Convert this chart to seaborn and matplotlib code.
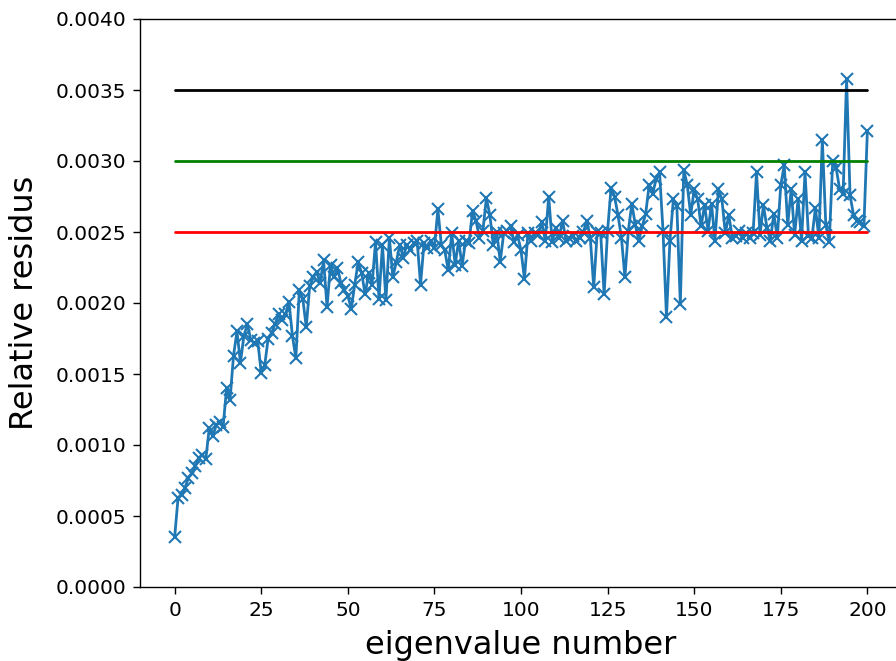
import numpy as np
import pandas as pd
import matplotlib
matplotlib.use("Agg")
import matplotlib.pyplot as plt
import seaborn as sns

# Relative residual for each computed eigenvalue
residus = [
    0.00035, 0.00063, 0.00065, 0.00070, 0.00077, 0.00080, 0.00085, 0.00091, 0.00093, 0.00090,
    0.00112, 0.00106, 0.00114, 0.00116, 0.00113, 0.00140, 0.00132, 0.00163, 0.00180, 0.00158,
    0.00177, 0.00185, 0.00174, 0.00172, 0.00173, 0.00151, 0.00156, 0.00175, 0.00179, 0.00185,
    0.00192, 0.00188, 0.00192, 0.00201, 0.00177, 0.00161, 0.00209, 0.00203, 0.00183, 0.00212,
    0.00218, 0.00222, 0.00214, 0.00230, 0.00197, 0.00227, 0.00218, 0.00225, 0.00214, 0.00209,
    0.00205, 0.00196, 0.00213, 0.00229, 0.00221, 0.00206, 0.00221, 0.00213, 0.00243, 0.00203,
    0.00241, 0.00202, 0.00246, 0.00218, 0.00229, 0.00241, 0.00232, 0.00241, 0.00237, 0.00242,
    0.00244, 0.00213, 0.00242, 0.00239, 0.00244, 0.00239, 0.00266, 0.00241, 0.00237, 0.00223,
    0.00249, 0.00227, 0.00244, 0.00226, 0.00244, 0.00242, 0.00265, 0.00258, 0.00246, 0.00251,
    0.00274, 0.00262, 0.00241, 0.00250, 0.00229, 0.00249, 0.00251, 0.00254, 0.00243, 0.00248,
    0.00237, 0.00217, 0.00249, 0.00244, 0.00249, 0.00248, 0.00257, 0.00244, 0.00275, 0.00243,
    0.00253, 0.00246, 0.00258, 0.00244, 0.00246, 0.00247, 0.00244, 0.00246, 0.00250, 0.00258,
    0.00246, 0.00211, 0.00250, 0.00249, 0.00206, 0.00251, 0.00281, 0.00275, 0.00262, 0.00246,
    0.00218, 0.00251, 0.00270, 0.00255, 0.00244, 0.00254, 0.00263, 0.00283, 0.00277, 0.00287,
    0.00292, 0.00251, 0.00190, 0.00244, 0.00273, 0.00268, 0.00199, 0.00294, 0.00283, 0.00262,
    0.00280, 0.00273, 0.00254, 0.00269, 0.00251, 0.00270, 0.00244, 0.00280, 0.00273, 0.00249,
    0.00262, 0.00246, 0.00247, 0.00251, 0.00246, 0.00249, 0.00246, 0.00249, 0.00292, 0.00248,
    0.00269, 0.00253, 0.00244, 0.00263, 0.00246, 0.00283, 0.00297, 0.00255, 0.00280, 0.00248,
    0.00273, 0.00244, 0.00292, 0.00247, 0.00246, 0.00267, 0.00246, 0.00315, 0.00255, 0.00243,
    0.00300, 0.00295, 0.00280, 0.00277, 0.00358, 0.00276, 0.00262, 0.00258, 0.00257, 0.00254,
    0.00321,
]
eig_number = list(range(len(residus)))

# Reference thresholds
thresholds = [0.0035, 0.0030, 0.0025]
threshold_colors = ["black", "green", "red"]
x_span = [0, 200]

sns.set_style("ticks")
plt.rcParams["font.family"] = ["DejaVu Sans"]
plt.rcParams["text.color"] = "black"
plt.rcParams["axes.labelcolor"] = "black"
plt.rcParams["xtick.color"] = "black"
plt.rcParams["ytick.color"] = "black"

fig = plt.figure(figsize=(8.96, 6.61), dpi=100)
ax = fig.add_axes([140 / 896, (661 - 587) / 661, 762 / 896, 568 / 661])

df = pd.DataFrame({"n": eig_number, "r": residus})
sns.lineplot(data=df, x="n", y="r", ax=ax, color="#1f77b4", linewidth=2,
             marker="x", markersize=9, markeredgewidth=1.5, markeredgecolor="#1f77b4")

for t, c in zip(thresholds, threshold_colors):
    ax.plot(x_span, [t, t], color=c, linewidth=2)

ax.set_xlim(-10, 210)
ax.set_ylim(0, 0.004)
ax.set_xticks([0, 25, 50, 75, 100, 125, 150, 175, 200])
ax.set_yticks(np.arange(0, 0.00401, 0.0005))
ax.yaxis.set_major_formatter(matplotlib.ticker.FormatStrFormatter("%.4f"))
ax.tick_params(labelsize=14.5, length=5, width=1, color="black", direction="out", pad=5)
for s in ax.spines.values():
    s.set_color("black")
    s.set_linewidth(1)
ax.set_xlabel("eigenvalue number", fontsize=23, labelpad=7)
ax.set_ylabel("Relative residus", fontsize=23, labelpad=11)

fig.savefig("out.png", dpi=100)
